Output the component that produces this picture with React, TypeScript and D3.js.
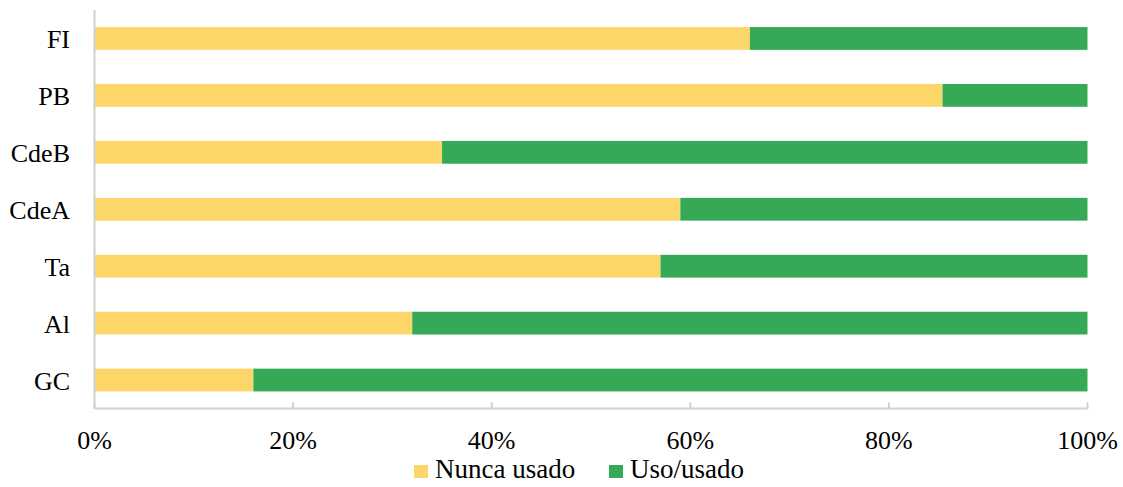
import React from "react";
import * as d3 from "d3";

const categories = ["FI", "PB", "CdeB", "CdeA", "Ta", "Al", "GC"];
const nuncaUsado = [66, 85.4, 35, 59, 57, 32, 16];
const usoUsado = nuncaUsado.map((v) => 100 - v);
const xTicks = [0, 20, 40, 60, 80, 100];
const seriesNames = ["Nunca usado", "Uso/usado"];
const colors = ["#FDD66A", "#35A956"];

export default function App() {
  const W = 1123, H = 487;
  const left = 94.5, right = 1087.5, top = 10, bottom = 408.5;
  const x = d3.scaleLinear().domain([0, 100]).range([left, right]);
  const y = d3.scaleBand().domain(categories).range([top, bottom]).paddingInner(0.6).paddingOuter(0.3);
  const font = "'Liberation Serif', 'Times New Roman', serif";
  return (
    <svg width={W} height={H} style={{ position: "absolute", left: 0, top: 0, background: "#fff" }}>
      {categories.map((c, i) => (
        <g key={c}>
          <rect x={x(0)} y={y(c)} width={x(nuncaUsado[i]) - x(0)} height={y.bandwidth()} fill={colors[0]} />
          <rect x={x(nuncaUsado[i])} y={y(c)} width={x(nuncaUsado[i] + usoUsado[i]) - x(nuncaUsado[i])} height={y.bandwidth()} fill={colors[1]} />
          <text x={70} y={y(c)! + y.bandwidth() / 2 + 9.5} textAnchor="end" fontFamily={font} fontSize={26} fill="#000">{c}</text>
        </g>
      ))}
      <line x1={left} x2={left} y1={top} y2={bottom} stroke="#D0D0D0" strokeWidth={2} />
      <line x1={left} x2={right} y1={bottom} y2={bottom} stroke="#D0D0D0" strokeWidth={2} />
      {xTicks.map((t) => (
        <g key={t}>
          <line x1={x(t)} x2={x(t)} y1={bottom} y2={bottom - 6} stroke="#D0D0D0" strokeWidth={2} />
          <text x={x(t)} y={449} textAnchor="middle" fontFamily={font} fontSize={26} fill="#000">{t}%</text>
        </g>
      ))}
      <rect x={414} y={465} width={14} height={13} fill={colors[0]} />
      <text x={435} y={478} fontFamily={font} fontSize={27} fill="#000">{seriesNames[0]}</text>
      <rect x={609} y={465} width={14} height={13} fill={colors[1]} />
      <text x={630} y={478} fontFamily={font} fontSize={27} fill="#000">{seriesNames[1]}</text>
    </svg>
  );
}
